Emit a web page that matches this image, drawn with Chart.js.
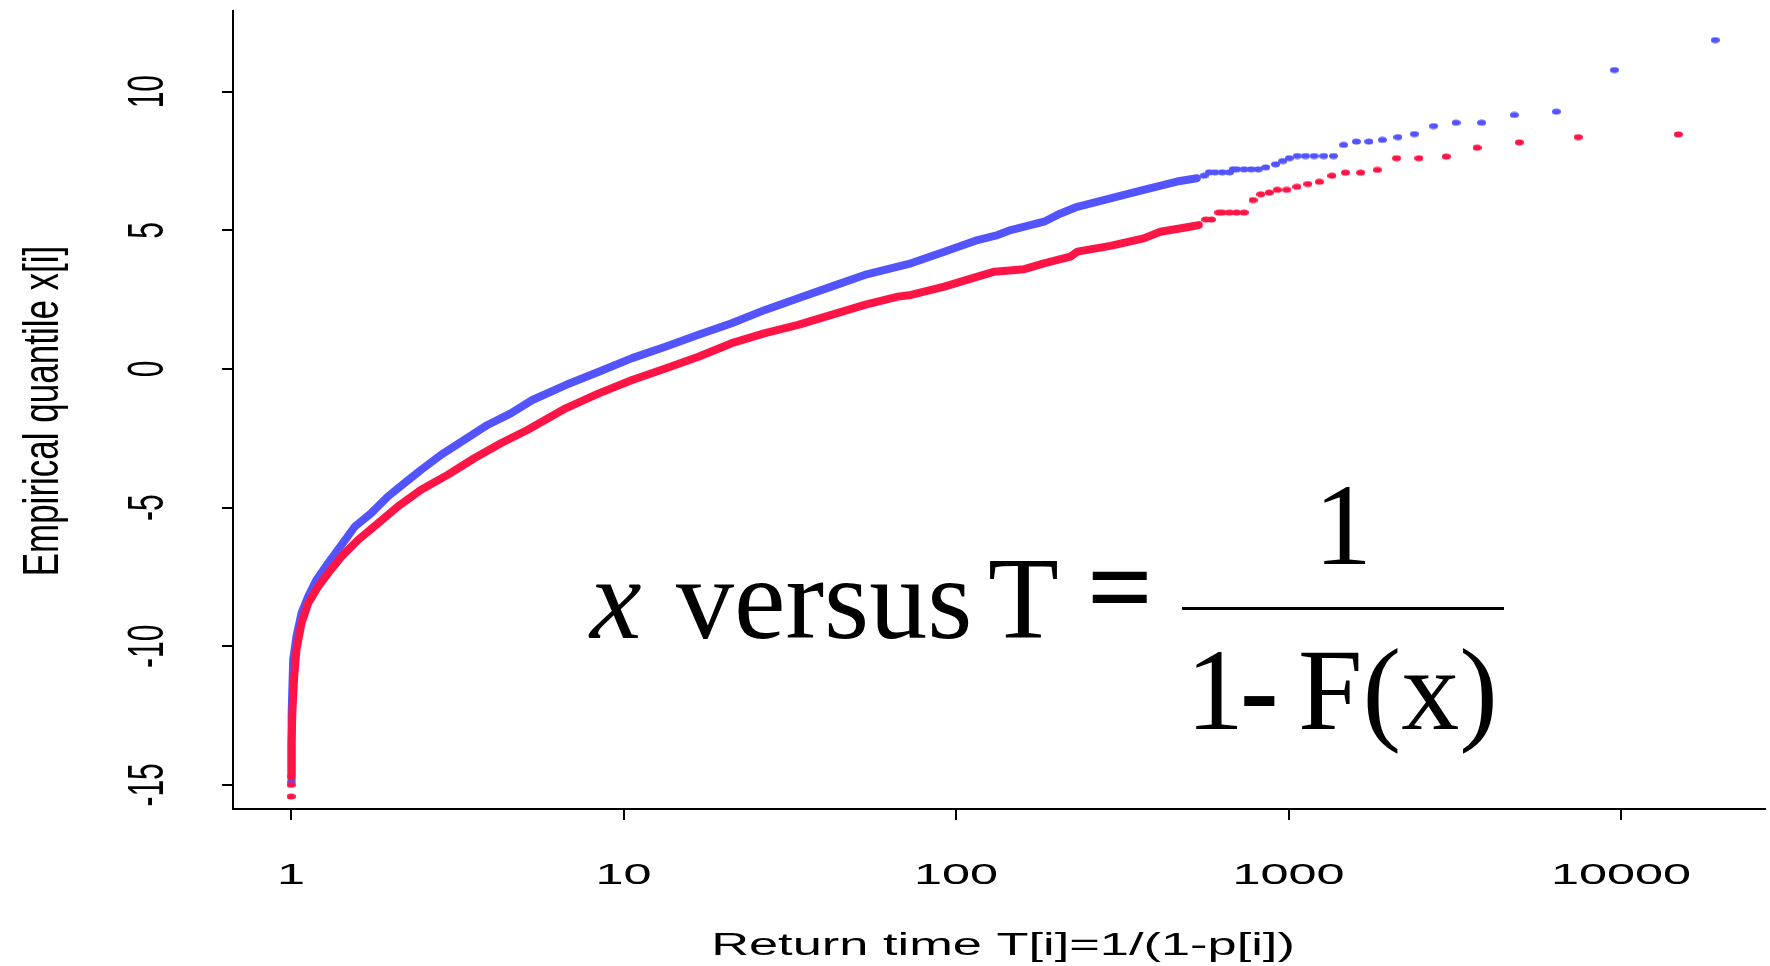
<!DOCTYPE html>
<html>
<head>
<meta charset="utf-8">
<script src="https://cdn.jsdelivr.net/npm/chart.js@4/dist/chart.umd.min.js"></script>
<style>
html,body{margin:0;padding:0;background:#fff;}
canvas{display:block;}
</style>
</head>
<body>
<canvas id="c" width="1770" height="966"></canvas>
<script>
// ---- data ----
const xTickValues = [1, 10, 100, 1000, 10000];
const yTickValues = [-15, -10, -5, 0, 5, 10];

const blueBandT = [1.0005,1.002,1.004,1.006,1.008,1.015,1.038,1.075,1.126,1.192,1.292,1.417,1.554,1.743,1.956,2.193,2.461,2.826,3.319,3.898,4.58,5.318,6.697,8.426,10.61,13.36,16.80,21.15,26.64,33.51,42.17,53.11,66.83,73.2,92.2,116.1,133.3,146.1,183.9,206.3,231.5,291.3,366.7,461.6,530];
const blueBandX = [-14.9,-14.3,-13.5,-12.5,-11.7,-10.49,-9.65,-8.81,-8.21,-7.61,-7.01,-6.35,-5.69,-5.20,-4.60,-4.12,-3.64,-3.10,-2.56,-2.02,-1.60,-1.12,-0.58,-0.10,0.39,0.80,1.23,1.65,2.13,2.55,2.97,3.39,3.69,3.81,4.23,4.65,4.83,5.01,5.31,5.61,5.85,6.15,6.46,6.76,6.88];
const blueTailT = [557,578,601,632,664,681,698,735,772,811,854,914,961,1005,1062,1125,1193,1276,1365,1465,1600,1745,1916,2134,2390,2730,3190,3808,4775,6390,9550,19190];
const blueTailX = [6.97,7.09,7.09,7.09,7.09,7.20,7.20,7.20,7.20,7.20,7.27,7.38,7.50,7.60,7.68,7.68,7.68,7.68,7.68,8.08,8.20,8.20,8.26,8.36,8.47,8.76,8.88,8.88,9.16,9.28,10.78,11.86];

const redBandT = [1.0005,1.002,1.004,1.01,1.022,1.038,1.075,1.126,1.206,1.292,1.417,1.590,1.825,2.096,2.461,2.958,3.556,4.276,5.137,6.04,6.697,8.426,10.61,13.36,16.80,21.15,26.64,33.51,42.17,53.11,66.83,73.2,92.2,116.1,130.5,160.4,183.9,220.6,231.5,291.3,366.7,411.6,505,537];
const redBandX = [-14.7,-14.0,-13.5,-12.30,-11.10,-10.13,-9.17,-8.45,-7.85,-7.37,-6.77,-6.17,-5.57,-4.96,-4.36,-3.82,-3.22,-2.68,-2.20,-1.72,-1.42,-0.88,-0.40,0.02,0.44,0.93,1.29,1.59,1.95,2.31,2.61,2.67,2.97,3.33,3.51,3.60,3.81,4.05,4.23,4.44,4.71,4.95,5.13,5.19];
const redTailT = [1.0004,1.0004,564,586,617,632,664,698,735,782,826,875,925,988,1060,1143,1238,1351,1483,1648,1850,2113,2466,2980,3690,4945,7430,14860];
const redTailX = [-15.42,-15.0,5.39,5.39,5.64,5.64,5.64,5.64,5.64,6.09,6.30,6.36,6.46,6.46,6.57,6.67,6.75,6.97,7.08,7.08,7.18,7.60,7.60,7.66,7.98,8.17,8.36,8.46];

const xTitle = 'Return time T[i]=1/(1-p[i])';
const yTitle = 'Empirical quantile x[i]';

// ---- styles ----
const BLUE = '#5454ff';
const RED = '#ff1446';

function pairs(ts, xs){ return ts.map((t,i)=>({x:t, y:xs[i]})); }

function dot(color){
  const c = document.createElement('canvas');
  c.width = 9; c.height = 7;
  const g = c.getContext('2d');
  g.fillStyle = color;
  g.beginPath(); g.ellipse(4.5,3.5,4.5,3,0,0,Math.PI*2); g.fill();
  return c;
}

function drawStretched(ctx, text, x, y, font, sx, sy, rot, align){
  ctx.save();
  ctx.font = font;
  ctx.fillStyle = '#000';
  ctx.textAlign = align || 'center';
  ctx.textBaseline = 'alphabetic';
  ctx.translate(x, y);
  if (rot) ctx.rotate(rot);
  ctx.scale(sx, sy);
  ctx.fillText(text, 0, 0);
  ctx.restore();
}

const textPlugin = {
  id: 'texts',
  afterDraw(chart){
    const ctx = chart.ctx;
    const xs = chart.scales.x, ys = chart.scales.y;
    // x tick labels
    xs.ticks.forEach(t => {
      const px = xs.getPixelForValue(t.value);
      drawStretched(ctx, String(t.value), px, 884, '30px "Liberation Sans"', 1.68, 1, 0, 'center');
    });
    // y tick labels (parallel to axis)
    ys.ticks.forEach(t => {
      const py = ys.getPixelForValue(t.value);
      drawStretched(ctx, String(t.value), 163, py, '30px "Liberation Sans"', 1, 1.64, -Math.PI/2, 'center');
    });
    const ca = chart.chartArea;
    // axis titles
    drawStretched(ctx, xTitle, (ca.left + ca.right)/2 + 4, 955, '31px "Liberation Sans"', 1.69, 1, 0, 'center');
    drawStretched(ctx, yTitle, 58, 411, '35px "Liberation Sans"', 1, 1.45, -Math.PI/2, 'center');

    // formula annotation
    const F = '116px "Liberation Serif"';
    ctx.save();
    ctx.fillStyle = '#000';
    ctx.textBaseline = 'alphabetic';
    ctx.textAlign = 'left';
    ctx.font = 'italic ' + F;
    ctx.fillText('x', 590, 638);
    ctx.font = F;
    ctx.fillText('versus', 676, 638);
    ctx.fillText('T', 988, 638);
    ctx.font = 'bold ' + F;
    ctx.textAlign = 'center';
    ctx.fillText('=', 1120, 626);
    ctx.font = F;
    ctx.fillText('1', 1343, 564);
    ctx.textAlign = 'left';
    ctx.fillText('1', 1186, 729);
    ctx.font = 'bold ' + F;
    ctx.fillText('-', 1240, 729);
    ctx.font = F;
    ctx.fillText('F(x)', 1298, 729);
    ctx.fillRect(1182, 607, 322, 3);
    ctx.restore();
  }
};

const tickSetter = vals => scale => { scale.ticks = vals.map(v => ({value: v})); };

new Chart(document.getElementById('c'), {
  type: 'scatter',
  data: {
    datasets: [
      { label: 'red band', data: pairs(redBandT, redBandX), showLine: true, borderColor: RED, borderWidth: 8, pointRadius: 0, borderCapStyle: 'round', borderJoinStyle: 'round', tension: 0 },
      { label: 'red tail', data: pairs(redTailT, redTailX), showLine: false, pointStyle: dot(RED), pointRadius: 4 },
      { label: 'blue band', data: pairs(blueBandT, blueBandX), showLine: true, borderColor: BLUE, borderWidth: 8, pointRadius: 0, borderCapStyle: 'round', borderJoinStyle: 'round', tension: 0 },
      { label: 'blue tail', data: pairs(blueTailT, blueTailX), showLine: false, pointStyle: dot(BLUE), pointRadius: 4 }
    ]
  },
  options: {
    responsive: false,
    animation: false,
    devicePixelRatio: 1,
    layout: { padding: { top: 11, left: 0, right: 0, bottom: 0 } },
    plugins: { legend: { display: false }, tooltip: { enabled: false } },
    events: [],
    scales: {
      x: {
        type: 'logarithmic',
        min: 0.669, max: 27100,
        afterBuildTicks: tickSetter(xTickValues),
        afterFit: s => { s.height = 157; },
        ticks: { display: false },
        grid: { display: true, drawOnChartArea: false, drawTicks: true, tickLength: 11, color: '#000', lineWidth: 2 },
        border: { display: true, color: '#000', width: 2 }
      },
      y: {
        type: 'linear',
        min: -15.87, max: 12.91,
        afterBuildTicks: tickSetter(yTickValues),
        afterFit: s => { s.width = 233; },
        ticks: { display: false },
        grid: { display: true, drawOnChartArea: false, drawTicks: true, tickLength: 11, color: '#000', lineWidth: 2 },
        border: { display: true, color: '#000', width: 2 }
      }
    }
  },
  plugins: [textPlugin]
});
</script>
</body>
</html>
